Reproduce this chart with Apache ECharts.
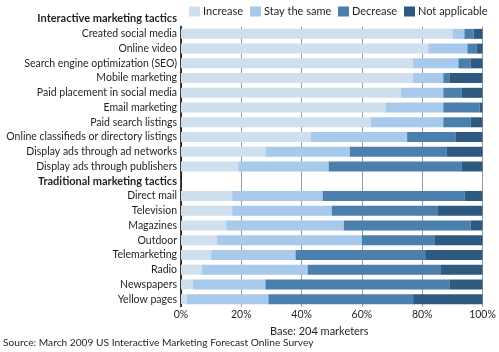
<!DOCTYPE html>
<html>
<head>
<meta charset="utf-8">
<script src="https://cdn.jsdelivr.net/npm/echarts@6/dist/echarts.min.js"></script>
<style>
  html, body { margin: 0; padding: 0; background: #fff; }
  #chart { width: 499px; height: 352px; }
</style>
</head>
<body>
<div id="chart"></div>
<script>
const FONT = 'Lato, sans-serif';
const TEXT = '#231f20';

const categories = [
	'Created social media', 'Online video', 'Search engine optimization (SEO)',
	'Mobile marketing', 'Paid placement in social media', 'Email marketing',
	'Paid search listings', 'Online classifieds or directory listings',
	'Display ads through ad networks', 'Display ads through publishers',
	'Traditional marketing tactics',
	'Direct mail', 'Television', 'Magazines', 'Outdoor', 'Telemarketing',
	'Radio', 'Newspapers', 'Yellow pages'
];
const headerRow = 'Traditional marketing tactics';

const increase    = [90, 82, 77, 77, 73, 68, 63, 43, 28, 19, null, 17, 17, 15, 12, 10, 7, 4, 2];
const staySame    = [4, 13, 15, 10, 14, 19, 24, 32, 28, 30, null, 30, 33, 39, 48, 28, 35, 24, 27];
const decrease    = [3, 3, 4, 2, 6, 12, 9, 16, 32, 44, null, 47, 35, 42, 24, 43, 44, 61, 48];
const notApplic   = [3, 3, 4, 11, 8, 1, 4, 9, 12, 8, null, 7, 15, 4, 16, 19, 14, 11, 23];

const xTicks = [0, 20, 40, 60, 80, 100];

const seriesDefs = [
	{ name: 'Increase', data: increase, color: '#cfdfee' },
	{ name: 'Stay the same', data: staySame, color: '#a6c9ec' },
	{ name: 'Decrease', data: decrease, color: '#4a7fae' },
	{ name: 'Not applicable', data: notApplic, color: '#2e5a81' }
];
// left edge of each legend swatch
const legendLeft = [189, 250, 338, 404];

const chart = echarts.init(document.getElementById('chart'));

chart.setOption({
	animation: false,
	textStyle: { fontFamily: FONT },
	legend: seriesDefs.map((s, i) => ({
		left: legendLeft[i],
		top: 6,
		padding: 0,
		itemWidth: 11,
		itemHeight: 10,
		icon: 'rect',
		textStyle: { color: TEXT, fontSize: 11, fontFamily: FONT, padding: [0, 0, 0, -2] },
		data: [s.name]
	})),
	grid: { left: 181, right: 16.5, top: 26.5, bottom: 45.5 },
	xAxis: {
		type: 'value',
		min: 0,
		max: 100,
		interval: 20,
		axisLine: { show: false },
		axisTick: { show: false },
		splitLine: { show: true, lineStyle: { color: '#9a9a9a', width: 1 } },
		axisLabel: {
			color: TEXT,
			fontSize: 10.5,
			margin: 3,
			formatter: v => xTicks.includes(v) ? v + '%' : ''
		}
	},
	yAxis: {
		type: 'category',
		inverse: true,
		data: categories,
		axisLine: { show: true, lineStyle: { color: '#000', width: 1.5 } },
		axisTick: { show: false },
		axisLabel: {
			interval: 0,
			color: TEXT,
			fontSize: 10.5,
			margin: 4,
			formatter: v => v === headerRow ? '{h|' + v + '}' : v,
			rich: { h: { fontWeight: 'bold', fontSize: 11, color: TEXT, fontFamily: FONT } }
		}
	},
	series: seriesDefs.map(s => ({
		name: s.name,
		type: 'bar',
		stack: 'total',
		barWidth: 10,
		itemStyle: { color: s.color },
		data: s.data
	})),
	graphic: [
		{
			type: 'text', right: 499 - 177, top: 13,
			style: { text: 'Interactive marketing tactics', font: 'bold 11px ' + FONT, fill: TEXT }
		},
		{
			type: 'text', left: 270, top: 326,
			style: { text: 'Base: 204 marketers', font: '11px ' + FONT, fill: TEXT, textAlign: 'center' }
		},
		{
			type: 'text', left: 3, top: 338,
			style: { text: 'Source: March 2009 US Interactive Marketing Forecast Online Survey', font: '10.2px ' + FONT, fill: TEXT }
		}
	]
});
</script>
</body>
</html>
